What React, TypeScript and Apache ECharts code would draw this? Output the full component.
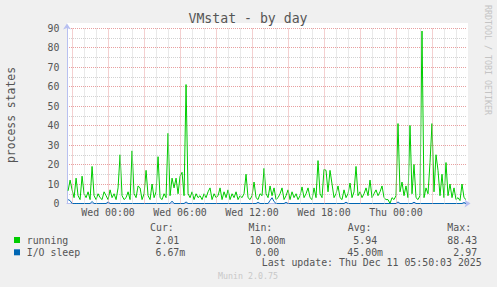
import React, { useEffect, useRef } from 'react';
import * as echarts from 'echarts';

// time of the first sample, in hours relative to Wed 00:00, and sample step (10 min)
const firstSampleHour = -3.33;
const sampleStepHours = 1 / 6;

const runningValues = [
  6.5, 12, 7, 3, 13, 4, 2, 14, 5, 3, 6, 2, 19, 4, 2, 5, 3, 2, 6, 4,
  2, 7, 3, 5, 2, 8, 25, 4, 2, 3, 6, 2, 27, 5, 3, 9, 8, 2, 5, 17,
  4, 2, 10, 3, 6, 24, 3, 2, 5, 3, 36, 4, 13, 8, 13, 5, 14, 16, 4, 61,
  5, 3, 6, 2, 5, 3, 4, 2, 5, 3, 6, 8, 2, 5, 3, 4, 8, 2, 6, 3,
  7, 2, 5, 3, 6, 2, 4, 3, 5, 15, 3, 2, 4, 11, 3, 2, 5, 4, 18, 5,
  3, 9, 4, 8, 2, 3, 5, 8, 2, 4, 7, 2, 6, 3, 5, 2, 4, 8.5, 3, 5,
  8, 3, 2, 8, 3, 22, 5, 3, 17.5, 17, 6, 17, 10, 3, 5, 9, 3, 2, 7, 3,
  5, 10.5, 3, 6, 19, 4, 6, 3, 5, 8, 4, 12, 3, 5, 7, 4, 6, 9, 3, 2,
  2, 0.01, 3, 2, 4, 41, 6, 11, 4, 9, 3, 40, 5, 20, 3, 2, 4, 88.43, 3, 8,
  5, 21, 41, 6, 25, 17, 4, 15, 3, 21, 4, 10, 3, 8, 2, 3, 1.5, 10, 3, 2.01,
];

const ioSleepValues = [
  2, 1.5, 0, 0, 0, 0, 0, 0, 0, 0, 0, 0, 1, 0, 0, 0, 0, 0, 0, 0,
  0.8, 0, 0, 0, 0, 0, 0, 0, 0, 0, 0, 0, 0, 0, 0, 0, 0, 0, 0, 0,
  0, 0, 0, 0, 0, 0, 0, 0, 0, 0, 0, 0, 1.2, 0, 0, 0, 0, 0, 0, 0.8,
  0, 0, 0, 0, 0, 0, 0, 0, 0, 0, 0, 0, 0, 0, 0, 0, 0, 0, 0, 0,
  0, 0, 0, 0, 0, 0, 0, 0, 0, 0, 0, 0, 0, 0, 0, 0.6, 0, 0, 0, 0,
  0, 1.5, 2.97, 1, 0, 0, 0, 0, 0, 0.6, 0, 0, 0, 0, 0, 0, 0, 0, 0, 0,
  0, 0, 0, 0, 0, 0, 0, 0, 0, 0, 0, 0, 0, 0, 0, 0, 0, 0, 0, 0.7,
  0, 0, 0, 0, 0, 0, 0, 0, 0, 0, 0, 0, 0, 0, 0, 0, 0, 0, 0, 0,
  0, 0, 0, 0, 0, 0.8, 0, 0, 0, 0, 0, 0, 0, 0.7, 0, 0, 0, 0, 0, 0,
  0, 0, 0, 0, 0, 0, 0, 0, 0, 0, 0, 0, 0, 0, 0, 0, 0, 0, 0.5, 0.00667,
];

const xLabelHours = [0, 6, 12, 18, 24];
const gridHours = [-3, -2, -1, 0, 1, 2, 3, 4, 5, 6, 7, 8, 9, 10, 11, 12, 13, 14, 15, 16, 17, 18, 19, 20, 21, 22, 23, 24, 25, 26, 27, 28, 29];

const seriesNames = ['running', 'I/O sleep'];
const seriesColors = ['#00CC00', '#0066B3'];
const curValues = ['2.01', '6.67m'];
const minValues = ['10.00m', '0.00'];
const avgValues = ['5.94', '45.00m'];
const maxValues = ['88.43', '2.97'];
const statHeaders = ['Cur:', 'Min:', 'Avg:', 'Max:'];

const titleText = 'VMstat - by day';
const yTitle = 'process states';
const lastUpdate = 'Last update: Thu Dec 11 05:50:03 2025';
const footerText = 'Munin 2.0.75';
const sideText = 'RRDTOOL / TOBI OETIKER';

const MONO = 'DejaVu Sans Mono';
const TXT = '#555555';
const CHAR_W = 5.96;
const FS = 9.9;

function statText(s: string, colX: number, y: number) {
  const m = s.match(/^([\d.]+)(.*)$/);
  const num = m ? m[1] : s;
  const pad = Math.max(0, 6 - num.length);
  return {
    type: 'text',
    x: colX + pad * CHAR_W,
    y,
    style: { text: s, fill: TXT, font: `${FS}px "${MONO}"`, verticalAlign: 'middle', align: 'left' },
  };
}

export default function App() {
  const ref = useRef<HTMLDivElement>(null);
  useEffect(() => {
    const chart = echarts.init(ref.current!, null, { renderer: 'svg' });
    const runningData = runningValues.map((v, i) => [firstSampleHour + i * sampleStepHours, v]);
    const ioData = ioSleepValues.map((v, i) => [firstSampleHour + i * sampleStepHours, v]);
    const red = '#e8a0a0';
    const gray = '#d2d2d2';
    const axisColor = '#b8c0f0';

    const rowY = [240, 252.3];
    const colX = [143.6, 243.6, 341.4, 441.4];
    const headerX = [150, 248.5, 347.7, 447.3];

    const graphic: any[] = [
      { type: 'rect', z: -10, shape: { x: 67, y: 23, width: 401, height: 180.5 }, style: { fill: '#ffffff' } },
      { type: 'text', x: 248, y: 18.7, style: { text: titleText, fill: TXT, font: `13.2px "${MONO}"`, align: 'center', verticalAlign: 'middle' } },
      { type: 'text', x: 11, y: 115, rotation: Math.PI / 2, style: { text: yTitle, fill: TXT, font: `11.4px "${MONO}"`, align: 'center', verticalAlign: 'middle' } },
      { type: 'text', x: 487.5, y: 60, rotation: -Math.PI / 2, style: { text: sideText, fill: '#c4c4c4', font: `8.3px "${MONO}"`, align: 'center', verticalAlign: 'middle' } },
      { type: 'text', x: 248, y: 276, style: { text: footerText, fill: '#c8c8c8', font: `8.3px "${MONO}"`, align: 'center', verticalAlign: 'middle' } },
      { type: 'text', x: 261.7, y: 262.7, style: { text: lastUpdate, fill: TXT, font: `${FS}px "${MONO}"`, align: 'left', verticalAlign: 'middle' } },
    ];
    statHeaders.forEach((h, i) => {
      graphic.push({ type: 'text', x: headerX[i], y: 227.3, style: { text: h, fill: TXT, font: `${FS}px "${MONO}"`, align: 'left', verticalAlign: 'middle' } });
    });
    seriesNames.forEach((name, r) => {
      graphic.push({ type: 'rect', shape: { x: 14, y: rowY[r] - 3, width: 6, height: 6 }, style: { fill: seriesColors[r] } });
      graphic.push({ type: 'text', x: 26.7, y: rowY[r], style: { text: name, fill: TXT, font: `${FS}px "${MONO}"`, align: 'left', verticalAlign: 'middle' } });
      graphic.push(statText(curValues[r], colX[0], rowY[r]));
      graphic.push(statText(minValues[r], colX[1], rowY[r]));
      graphic.push(statText(avgValues[r], colX[2], rowY[r]));
      graphic.push(statText(maxValues[r], colX[3], rowY[r]));
    });

    chart.setOption({
      animation: false,
      backgroundColor: '#f0f0f0',
      grid: { left: 67, top: 28, width: 400, height: 175.5, show: false },
      xAxis: {
        type: 'value',
        min: -3.42,
        max: 29.92,
        axisLine: { show: true, onZero: false, lineStyle: { color: axisColor, width: 1 }, symbol: ['none', 'arrow'], symbolSize: [6, 6], symbolOffset: [0, 3.5] },
        axisTick: { show: false },
        splitLine: { show: false },
        axisLabel: {
          show: true,
          customValues: xLabelHours,
          margin: 4,
          color: TXT,
          fontFamily: MONO,
          fontSize: FS,
          formatter: (v: number) => {
            if (!xLabelHours.includes(Math.round(v * 1000) / 1000)) return '';
            const day = v < 24 ? 'Wed' : 'Thu';
            const h = ((v % 24) + 24) % 24;
            return `${day} ${String(h).padStart(2, '0')}:00`;
          },
        },
      },
      yAxis: {
        type: 'value',
        min: 0,
        max: 90,
        interval: 10,
        axisLine: { show: true, onZero: false, lineStyle: { color: axisColor, width: 1 }, symbol: ['none', 'arrow'], symbolSize: [6, 6], symbolOffset: [0, 4.5] },
        axisTick: { show: false },
        axisLabel: { color: TXT, fontFamily: MONO, fontSize: FS, margin: 7.5 },
        splitLine: { show: true, showMinLine: false, lineStyle: { color: red, type: 'dotted', width: 1 } },
        minorTick: { show: false, splitNumber: 2 },
        minorSplitLine: { show: true, lineStyle: { color: gray, type: 'dotted', width: 1 } },
      },
      graphic,
      series: [
        {
          type: 'line',
          data: [],
          silent: true,
          z: 1,
          markLine: {
            silent: true,
            symbol: ['none', 'none'],
            label: { show: false },
            emphasis: { disabled: true },
            data: gridHours.map((h) => ({
              xAxis: h,
              lineStyle: { color: h % 3 === 0 ? red : gray, type: 'dotted', width: 1 },
            })),
          },
        },
        {
          name: 'running',
          type: 'line',
          data: runningData,
          showSymbol: false,
          z: 3,
          lineStyle: { color: seriesColors[0], width: 1 },
          itemStyle: { color: seriesColors[0] },
        },
        {
          name: 'I/O sleep',
          type: 'line',
          data: ioData,
          showSymbol: false,
          z: 4,
          lineStyle: { color: seriesColors[1], width: 1 },
          itemStyle: { color: seriesColors[1] },
        },
      ],
    });
    return () => chart.dispose();
  }, []);
  return <div ref={ref} style={{ position: 'fixed', left: 0, top: 0, width: 497, height: 287 }} />;
}
